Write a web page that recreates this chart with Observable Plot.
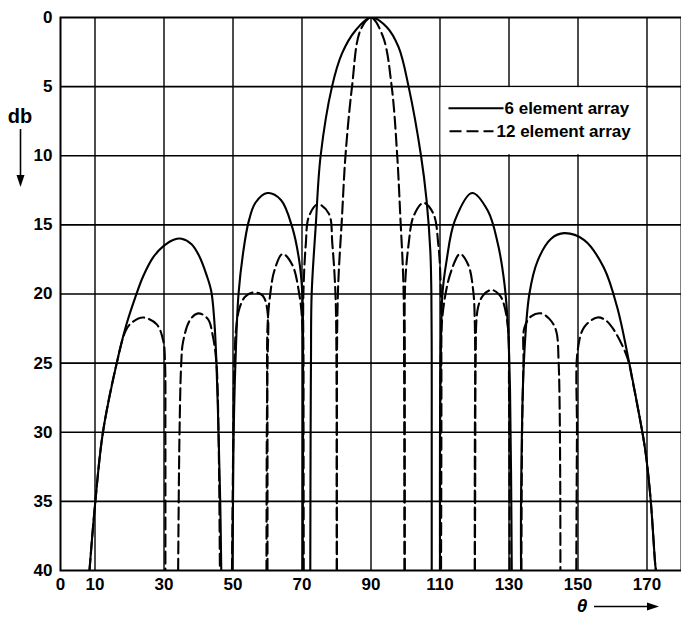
<!DOCTYPE html>
<html><head><meta charset="utf-8">
<script src="https://cdn.jsdelivr.net/npm/d3@7"></script>
<script src="https://cdn.jsdelivr.net/npm/@observablehq/plot@0.6"></script>
<style>
html,body{margin:0;padding:0;background:#fff;}
#chart{width:681px;height:617px;}
</style></head><body><div id="chart"></div>
<script>
// ---- tick labels ----
const thetaTicks = [0, 10, 30, 50, 70, 90, 110, 130, 150, 170];
const dbTicks = [0, 5, 10, 15, 20, 25, 30, 35, 40];
const seriesNames = ["6 element array", "12 element array"];

// ---- 6 element array: lobes of [theta (deg), attenuation (db)] ----
const sixElementLobes = [
  [[8.4,40],[10.1,35],[12.3,30],[16.3,25],[19.0,22.3],[21.6,20.3],[24.0,18.7],[27.0,17.3],[30.0,16.5],[33.0,16.05],[35.1,16.0],[38.0,16.4],[40.3,17.3],[42.3,18.6],[43.7,19.8],[44.6,22],[45.2,25],[45.8,30],[46.3,35],[46.6,40]],
  [[49.8,40],[50.0,35],[50.2,30],[50.7,25],[51.6,20],[53.0,16.9],[54.5,14.8],[56.5,13.4],[60.0,12.7],[63.9,13.2],[67.2,15.2],[69.2,17.6],[70.1,20],[70.3,25],[70.3,30],[70.2,40]],
  [[72.4,40],[72.5,30],[72.6,25],[72.8,20],[74.0,15],[75.4,10],[78.7,5],[81.6,2.6],[85.5,0.94],[90,0],[94.6,0.7],[98.0,2.15],[100.9,5],[104.5,10],[106.1,13.2],[107.2,16.9],[107.5,20],[107.6,25],[107.6,30],[107.6,40]],
  [[110.0,40],[110.0,30],[110.2,25],[110.7,20],[111.9,17.6],[114.3,14.7],[119.3,12.7],[123.9,14.0],[126.8,16.4],[128.7,19.3],[129.7,22.4],[130.3,27],[130.6,33],[130.8,40]],
  [[133.5,40],[133.5,34.7],[134.3,25],[135.9,20],[138.3,17.6],[142.2,16.0],[146.0,15.6],[151.8,16.1],[157.5,18.1],[161.4,21.0],[164.7,24.8],[167.1,27.9],[169.5,31.3],[171.0,34.7],[172.4,39.6],[172.6,40]]
];

// ---- 12 element array: lobes of [theta (deg), attenuation (db)] ----
const twelveElementLobes = [
  [[8.4,40],[10.1,35],[12.3,30],[16.3,25],[19.0,22.6],[21.0,22.0],[24.0,21.7],[27.9,22.2],[29.8,23.4],[30.3,25],[30.4,30],[30.4,40]],
  [[34.1,40],[34.5,30],[35.0,25],[35.5,23.5],[37.5,21.9],[39.9,21.4],[42.7,21.8],[44.2,23.1],[45.2,25],[45.8,30],[46.2,40]],
  [[49.7,40],[50.1,30],[50.4,25],[50.9,22.5],[51.9,21.0],[53.5,20.2],[55.7,19.9],[58.0,20.0],[59.1,20.3],[60.1,21.5],[60.0,25],[59.8,30],[59.7,40]],
  [[60.0,40],[60.0,30],[60.0,22.4],[60.8,20],[62.0,18.3],[64.4,17.1],[67.2,17.9],[69.2,20],[70.1,22.2],[70.3,30],[70.3,40]],
  [[70.5,40],[70.4,25],[70.4,20],[71.1,16.4],[72.0,14.4],[74.6,13.5],[77.8,14.2],[78.8,16.4],[79.7,20],[80.0,25],[80.1,40]],
  [[80.1,40],[80.1,30],[80.4,20],[81.6,14.4],[82.6,10],[84.5,5],[86.9,0.94],[90,0],[93.5,1.4],[96.0,5],[97.6,10],[98.5,14.4],[99.4,19.3],[99.6,25],[99.7,40]],
  [[99.8,40],[99.8,25],[99.9,19.3],[100.9,16.4],[102.3,14.4],[105.2,13.4],[108.1,14.2],[109.5,16.4],[110.2,19.3],[110.4,25],[110.3,40]],
  [[110.0,40],[110.2,25],[110.5,22.2],[111.6,20],[113.3,18.3],[115.8,17.1],[118.2,17.9],[119.6,19.7],[120.1,22.2],[120.1,40]],
  [[120.1,40],[120.3,25],[121.0,21.0],[122.5,20.1],[124.9,19.7],[127.0,20.0],[128.2,20.5],[129.7,22.4],[130.0,27],[130.2,40]],
  [[133.6,40],[133.8,30],[134.2,25],[134.5,22.4],[136.5,21.6],[139.3,21.4],[141.7,21.8],[143.6,22.6],[144.4,25],[144.9,40]],
  [[149.5,40],[149.7,30],[149.9,24.1],[151.8,22.4],[155.6,21.7],[158.0,21.9],[160.4,22.6],[164.3,24.6],[165.9,26.4],[167.1,27.9],[169.5,31.3],[171.0,34.7],[172.4,39.6],[172.6,40]]
];

// ---- build table ----
const rows = [];
[sixElementLobes, twelveElementLobes].forEach((lobes, s) => {
  lobes.forEach((pts, i) => {
    pts.forEach(([theta, db]) => rows.push({series: seriesNames[s], lobe: s + "-" + i, theta, db}));
  });
});
const six = rows.filter(d => d.series === seriesNames[0]);
const twelve = rows.filter(d => d.series === seriesNames[1]);

const FONT = "'Liberation Sans', Arial, sans-serif";
const DASH = "12,5";

const plot = Plot.plot({
  width: 681,
  height: 617,
  marginLeft: 60,
  marginRight: 0,
  marginTop: 17,
  marginBottom: 47,
  style: {fontFamily: FONT, fontSize: "17px", fontWeight: "bold", background: "#fff", color: "#000"},
  x: {domain: [0, 180]},
  y: {domain: [0, 40], reverse: true},
  marks: [
    Plot.ruleX(thetaTicks.filter(t => t > 0), {stroke: "#000", strokeWidth: 1.4}),
    Plot.ruleY(dbTicks.filter(t => t > 0 && t < 40), {stroke: "#000", strokeWidth: 1.6}),
    Plot.line(six, {x: "theta", y: "db", z: "lobe", curve: "catmull-rom", stroke: "#000", strokeWidth: 2.1, clip: true}),
    Plot.line(twelve, {x: "theta", y: "db", z: "lobe", curve: "catmull-rom", stroke: "#000", strokeWidth: 2.1, strokeDasharray: DASH, clip: true}),
    Plot.frame({stroke: "#000", strokeWidth: 2}),
    Plot.axisX(thetaTicks, {tickSize: 0, tickPadding: 7, label: null, fontWeight: "bold"}),
    Plot.axisY(dbTicks, {tickSize: 0, tickPadding: 8, label: null, fontWeight: "bold"})
  ]
});
document.getElementById("chart").appendChild(plot);

// ---- legend box inside the grid cell (110..170 deg, 5..10 db) ----
const svg = d3.select(plot);
const xs = plot.scale("x"), ys = plot.scale("y");
const lx1 = xs.apply(110), lx2 = xs.apply(170), ly1 = ys.apply(5), ly2 = ys.apply(10);
const g = svg.append("g").attr("text-anchor", "start");
g.append("rect").attr("x", lx1 + 1).attr("y", ly1 + 1).attr("width", lx2 - lx1 - 2).attr("height", ly2 - ly1 - 2).attr("fill", "#fff");
g.append("line").attr("x1", lx1 + 9).attr("x2", lx1 + 64).attr("y1", ly1 + 22).attr("y2", ly1 + 22).attr("stroke", "#000").attr("stroke-width", 2);
g.append("line").attr("x1", lx1 + 10).attr("x2", lx1 + 54).attr("y1", ly1 + 45).attr("y2", ly1 + 45).attr("stroke", "#000").attr("stroke-width", 2).attr("stroke-dasharray", "12,5");
g.append("text").attr("x", lx1 + 65).attr("y", ly1 + 28).attr("text-anchor", "start").text(seriesNames[0])
  .attr("font-family", FONT).attr("font-size", 17).attr("font-weight", "bold");
g.append("text").attr("x", lx1 + 57).attr("y", ly1 + 51).attr("text-anchor", "start").text(seriesNames[1])
  .attr("font-family", FONT).attr("font-size", 17).attr("font-weight", "bold");

// ---- axis titles with arrows ----
const t = svg.append("g").attr("font-family", FONT).attr("font-weight", "bold");
t.append("text").attr("x", 20).attr("y", 123).attr("text-anchor", "middle").attr("font-size", 20).text("db");
t.append("line").attr("x1", 20.5).attr("x2", 20.5).attr("y1", 129).attr("y2", 178).attr("stroke", "#000").attr("stroke-width", 1.6);
t.append("path").attr("d", "M16.5,175 L24.5,175 L20.5,187 Z").attr("fill", "#000");
t.append("text").attr("x", 582).attr("y", 612).attr("text-anchor", "middle").attr("font-size", 19).attr("font-style", "italic").text("θ");
t.append("line").attr("x1", 594).attr("x2", 650).attr("y1", 606.5).attr("y2", 606.5).attr("stroke", "#000").attr("stroke-width", 1.6);
t.append("path").attr("d", "M647,602.5 L647,610.5 L659,606.5 Z").attr("fill", "#000");
</script>
</body></html>
